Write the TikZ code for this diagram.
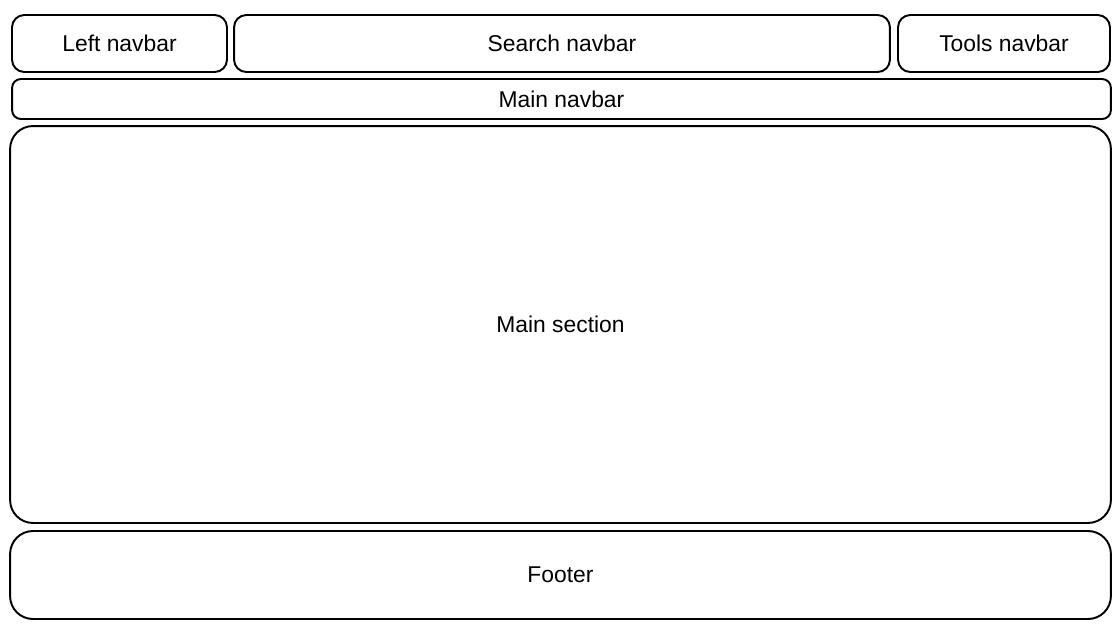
\documentclass[tikz,border=0pt]{standalone}
\usepackage{fontspec}
\setmainfont{Liberation Sans}
\usetikzlibrary{positioning}

\begin{document}
\begin{tikzpicture}[x=0.02cm,y=-0.02cm,font=\fontsize{13}{15}\selectfont,
box/.style={draw,line width=1.1pt,rounded corners=7pt,align=center,inner sep=0pt},
bigbox/.style={box,rounded corners=13pt}]
\useasboundingbox (0,0) rectangle (1117,637);
\node[box,minimum width=4.30cm,minimum height=1.14cm] (leftnav) at (119.5,43.5) {Left navbar};
\node[box,minimum width=13.12cm,minimum height=1.14cm] (searchnav) at (562,43.5) {Search navbar};
\node[box,minimum width=4.24cm,minimum height=1.14cm] (toolsnav) at (1004,43.5) {Tools navbar};
\node[box,rounded corners=5pt,minimum width=21.98cm,minimum height=0.80cm] (mainnav) at (561.5,99) {Main navbar};
\node[bigbox,minimum width=22.02cm,minimum height=7.94cm] (mainsec) at (560.5,324.5) {Main section};
\node[bigbox,minimum width=22.02cm,minimum height=1.76cm] (footer) at (560.5,575) {Footer};
\end{tikzpicture}
\end{document}
